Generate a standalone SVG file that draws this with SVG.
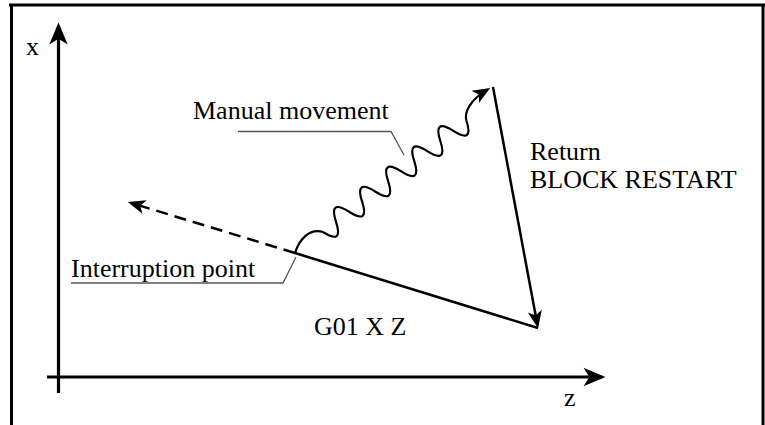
<svg xmlns="http://www.w3.org/2000/svg" width="765" height="425" viewBox="0 0 765 425">
  <style>
    .frame { stroke: #000; stroke-width: 3; fill: none; }
    .axis { stroke: #000; stroke-width: 3.2; fill: none; }
    .path { stroke: #000; stroke-width: 2.5; fill: none; }
    .wave { stroke: #000; stroke-width: 2.2; fill: none; }
    .dash { stroke: #000; stroke-width: 2.5; fill: none; stroke-dasharray: 12 7; }
    .leader { stroke: #555; stroke-width: 1.3; fill: none; }
    text { font-family: "Liberation Serif", "Times New Roman", serif; font-size: 26px; fill: #000; }
  </style>
  <defs>
    <marker id="bigArrow" markerUnits="userSpaceOnUse" markerWidth="30" markerHeight="30" refX="0" refY="0" viewBox="-20 -10 26 20" orient="auto">
      <path d="M3,0 L-16,-8 L-11,0 L-16,8 Z" fill="#000"/>
    </marker>
    <marker id="arrow" markerUnits="userSpaceOnUse" markerWidth="24" markerHeight="24" refX="0" refY="0" viewBox="-16 -8 22 16" orient="auto">
      <path d="M3,0 L-13,-6.5 L-9,0 L-13,6.5 Z" fill="#000"/>
    </marker>
  </defs>

  <g id="frame">
    <line class="frame" x1="9" y1="5" x2="765" y2="5"/>
    <line class="frame" x1="11.5" y1="4" x2="11.5" y2="425"/>
    <line class="frame" x1="763" y1="4" x2="763" y2="425"/>
  </g>

  <g id="axes">
    <line class="axis" x1="58.5" y1="393" x2="58.5" y2="26" marker-end="url(#bigArrow)"/>
    <line class="axis" x1="47" y1="377" x2="602" y2="377" marker-end="url(#bigArrow)"/>
    <text x="26" y="55" font-family="Liberation Serif, serif">x</text>
    <text x="564" y="406" font-family="Liberation Serif, serif">z</text>
  </g>

  <g id="connectors">
    <line id="g01-path" class="path" x1="295" y1="253" x2="538" y2="328"/>
    <line id="dashed-continuation" class="dash" x1="295" y1="253" x2="130.9" y2="202.9" marker-end="url(#arrow)"/>
    <line id="return-path" class="path" x1="493" y1="87" x2="537.45" y2="325.05" marker-end="url(#arrow)"/>
    <g id="manual-movement">
      <path class="wave" d="M295,253 C299,240 309,228 323,232"/>
      <path class="wave" transform="translate(323,232) rotate(-37.8)" d="M0,0 q8.25,23 16.5,0 t16.5,0 t16.5,0 t16.5,0 t16.5,0 t16.5,0 t16.5,0 t16.5,0 t16.5,0 t16.5,0 t16.5,0"/>
      <path class="wave" d="M466.4,120.8 C464,112 470,100 487.4,89.6" marker-end="url(#arrow)"/>
    </g>
  </g>

  <g id="label-manual">
    <text x="193" y="119" font-family="Liberation Serif, serif">Manual movement</text>
    <polyline class="leader" points="238,131.5 391,131.5 404,155"/>
  </g>

  <g id="label-interruption">
    <text x="71" y="277" font-family="Liberation Serif, serif">Interruption point</text>
    <polyline class="leader" points="71,283 283,283 296,257"/>
  </g>

  <g id="label-return">
    <text x="530" y="160" font-family="Liberation Serif, serif">Return</text>
    <text x="530" y="188" font-family="Liberation Serif, serif">BLOCK RESTART</text>
  </g>

  <g id="label-g01">
    <text x="314" y="335" font-family="Liberation Serif, serif">G01 X Z</text>
  </g>
</svg>
